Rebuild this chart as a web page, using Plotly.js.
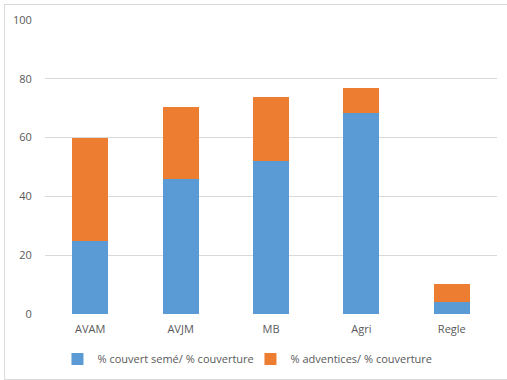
<!DOCTYPE html>
<html><head><meta charset="utf-8">
<script src="https://cdn.plot.ly/plotly-3.0.1.min.js"></script>
<style>
html,body{margin:0;padding:0;background:#fff;}
#wrap{position:relative;width:507px;height:380px;overflow:hidden;}
#chart{width:507px;height:380px;}
#frame{position:absolute;left:4px;top:4px;width:520px;height:376px;border:1px solid #D9D9D9;box-sizing:border-box;pointer-events:none;}
</style></head>
<body>
<div id="wrap"><div id="chart"></div><div id="frame"></div></div>
<script>
var categories = ["AVAM", "AVJM", "MB", "Agri", "Regle"];
var seriesNames = ["% couvert semé/ % couverture", "% adventices/ % couverture"];
var couvertSeme = [25, 46, 52, 68.3, 4.1];
var adventices = [35, 24.5, 21.8, 8.6, 6.2];
var yTicks = [0, 20, 40, 60, 80, 100];

var font = {family: "Open Sans, sans-serif", size: 11, color: "#595959"};
var traces = [
  {type: "bar", x: categories, y: couvertSeme, name: seriesNames[0], marker: {color: "#5B9BD5"}},
  {type: "bar", x: categories, y: adventices, name: seriesNames[1], marker: {color: "#ED7D31"}}
];
var layout = {
  width: 507, height: 380,
  barmode: "stack", bargap: 0.6,
  margin: {l: 45, r: 10, t: 20, b: 66},
  paper_bgcolor: "#fff", plot_bgcolor: "#fff",
  font: font,
  showlegend: true,
  legend: {orientation: "h", x: 0.494, xanchor: "center", xref: "container", yref: "container", y: 0.055, yanchor: "middle",
           font: font, traceorder: "normal", itemwidth: 30, entrywidth: 148, entrywidthmode: "pixels"},
  xaxis: {showgrid: false, showline: false, zeroline: false, ticks: "outside", ticklen: 5, tickcolor: "rgba(0,0,0,0)", tickfont: font},
  yaxis: {range: [0, 100], tickvals: yTicks, showgrid: true, gridcolor: "#D9D9D9", zeroline: false, showline: false,
          ticks: "outside", ticklen: 10, tickcolor: "rgba(0,0,0,0)", tickfont: font}
};
Plotly.newPlot("chart", traces, layout, {displayModeBar: false, staticPlot: true});
</script>
</body></html>
